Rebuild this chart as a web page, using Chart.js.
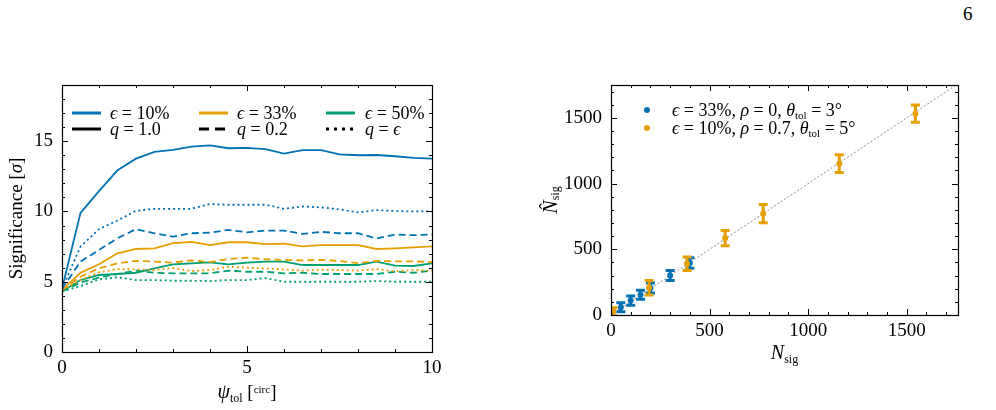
<!DOCTYPE html>
<html><head><meta charset="utf-8">
<script src="https://cdn.jsdelivr.net/npm/chart.js@4/dist/chart.umd.min.js"></script>
<style>
html,body{margin:0;padding:0;background:#fff;width:996px;height:410px;overflow:hidden;}
#wrap{position:relative;width:996px;height:410px;}
canvas{position:absolute;top:0;}
#pg{position:absolute;left:963px;top:3px;font:19px 'Liberation Serif';color:#000;}
</style></head><body>
<div id="wrap">
<div id="pg">6</div>
<canvas id="c1" width="470" height="410" style="left:0px"></canvas>
<canvas id="c2" width="516" height="410" style="left:480px"></canvas>
</div>
<script>
// ---------------- data: left panel ----------------
const psiTol = [0,0.5,1,1.5,2,2.5,3,3.5,4,4.5,5,5.5,6,6.5,7,7.5,8,8.5,9,9.5,10];
const sig10_q1  = [4.5,9.9,11.45,12.93,13.76,14.24,14.38,14.62,14.71,14.5,14.53,14.43,14.12,14.36,14.36,14.07,14.0,14.02,13.93,13.81,13.76];
const sig10_q02 = [4.5,6.43,7.26,8.1,8.74,8.45,8.21,8.45,8.5,8.69,8.52,8.64,8.64,8.4,8.55,8.45,8.45,8.07,8.36,8.31,8.36];
const sig10_qe  = [4.5,7.5,8.74,9.36,10.05,10.19,10.19,10.19,10.53,10.48,10.48,10.48,10.19,10.36,10.29,10.15,9.93,10.1,10.03,10.0,10.0];
const sig33_q1  = [4.4,5.64,6.24,7.02,7.33,7.38,7.74,7.83,7.6,7.81,7.81,7.67,7.71,7.52,7.6,7.6,7.6,7.33,7.38,7.45,7.52];
const sig33_q02 = [4.4,5.36,5.95,6.31,6.48,6.43,6.36,6.52,6.4,6.62,6.71,6.6,6.55,6.52,6.55,6.48,6.33,6.48,6.45,6.45,6.4];
const sig33_qe  = [4.4,5.12,5.67,5.9,5.88,5.83,5.98,5.76,5.83,6.07,6.0,5.95,5.88,5.79,5.86,5.83,5.79,5.9,5.74,5.83,5.79];
const sig50_q1  = [4.3,5.12,5.48,5.55,5.64,5.95,6.24,6.31,6.38,6.24,6.36,6.43,6.43,6.19,6.19,6.19,6.19,6.43,6.14,6.12,6.31];
const sig50_q02 = [4.3,4.95,5.3,5.55,5.79,5.64,5.6,5.6,5.6,5.79,5.71,5.71,5.6,5.64,5.55,5.55,5.55,5.55,5.71,5.64,5.79];
const sig50_qe  = [4.3,4.69,5.17,5.31,5.12,5.12,5.07,5.07,5.05,5.12,5.12,5.26,5.0,5.0,5.0,5.0,5.0,5.05,5.0,5.0,5.0];
const xTicksL = [0,5,10];
const yTicksL = [0,5,10,15];
// ---------------- data: right panel ----------------
const nTrue33 = [0,50,100,150,200,300,400];
const nFit33  = [5,59,110,154,205,301,395];
const err33   = [35,35,35,35,38,38,40];
const nTrue10 = [10,193,386,579,772,1158,1544];
const nFit10  = [25,207,390,585,771,1152,1532];
const err10   = [30,55,52,58,70,68,65];
const ticksR = [0,500,1000,1500];

const BLUE='#0072B2', ORANGE='#E69F00', GREEN='#009E73';
const FF='"Liberation Serif"';

function rich(ctx, x, y, segs, align){
  let w=0;
  for(const s of segs){ctx.font=(s[2]?'italic ':'')+s[1]+'px '+FF; w+=ctx.measureText(s[0]).width;}
  let cx = align==='center'? x-w/2 : x;
  ctx.textAlign='left';
  for(const s of segs){ctx.font=(s[2]?'italic ':'')+s[1]+'px '+FF; ctx.fillText(s[0],cx,y+(s[3]||0)); cx+=ctx.measureText(s[0]).width;}
  return w;
}
function frameTicks(chart, xMaj, xMinStep, yMaj, yMinStep){
  const ctx=chart.ctx, a=chart.chartArea, sx=chart.scales.x, sy=chart.scales.y;
  ctx.save(); ctx.strokeStyle='#000'; ctx.lineWidth=1.2;
  ctx.strokeRect(a.left+0.5,a.top+0.5,a.right-a.left,a.bottom-a.top);
  ctx.lineWidth=1;
  ctx.beginPath();
  const tick=(v,isX,len)=>{
    if(isX){const p=Math.round(sx.getPixelForValue(v))+0.5; ctx.moveTo(p,a.bottom); ctx.lineTo(p,a.bottom-len); ctx.moveTo(p,a.top); ctx.lineTo(p,a.top+len);}
    else {const p=Math.round(sy.getPixelForValue(v))+0.5; ctx.moveTo(a.left,p); ctx.lineTo(a.left+len,p); ctx.moveTo(a.right,p); ctx.lineTo(a.right-len,p);}
  };
  for(let v=sx.min; v<=sx.max+1e-9; v+=xMinStep){ if(!xMaj.some(m=>Math.abs(m-v)<1e-6)) tick(v,true,3);}
  for(let v=sy.min; v<=sy.max+1e-9; v+=yMinStep){ if(!yMaj.some(m=>Math.abs(m-v)<1e-6)) tick(v,false,3);}
  xMaj.forEach(v=>tick(v,true,6)); yMaj.forEach(v=>tick(v,false,6));
  ctx.stroke(); ctx.restore();
}
const pts=(xs,ys)=>xs.map((x,i)=>({x:x,y:ys[i]}));
const DASH=[7,4], DOT=[2,3];
function ds(arr,color,dash){return {data:pts(psiTol,arr),borderColor:color,borderWidth:1.8,borderDash:dash,pointRadius:0,fill:false,tension:0};}
const tickFont={family:'Liberation Serif',size:19};
const plain=v=>String(v);

const leftPlugin={id:'lp',afterDraw(chart){
  const ctx=chart.ctx, a=chart.chartArea;
  frameTicks(chart,xTicksL,1,yTicksL,1);
  ctx.save(); ctx.fillStyle='#000'; ctx.textBaseline='alphabetic';
  const cols=[[72,110],[199,237],[326,365]];
  const row1=[[BLUE,'10%'],[ORANGE,'33%'],[GREEN,'50%']];
  const row2=[[[],'1.0'],[[10,6],'0.2'],[[3,5],null]];
  for(let i=0;i<3;i++){
    ctx.lineWidth=3; ctx.setLineDash([]); ctx.strokeStyle=row1[i][0];
    ctx.beginPath(); ctx.moveTo(cols[i][0],113); ctx.lineTo(cols[i][0]+29,113); ctx.stroke();
    ctx.strokeStyle='#000'; ctx.setLineDash(row2[i][0]);
    ctx.beginPath(); ctx.moveTo(cols[i][0],129); ctx.lineTo(cols[i][0]+29,129); ctx.stroke();
    rich(ctx,cols[i][1],119,[['\u03F5',18,true],[' = '+row1[i][1],18,false]]);
    if(row2[i][1]) rich(ctx,cols[i][1],135,[['q',18,true],[' = '+row2[i][1],18,false]]);
    else rich(ctx,cols[i][1],135,[['q',18,true],[' = ',18,false],['\u03F5',18,true]]);
  }
  ctx.setLineDash([]);
  rich(ctx,(a.left+a.right)/2,398,[['\u03C8',20,true],['tol',12,false,4],[' [',19,false],['circ',11,false,-5],[']',19,false]],'center');
  ctx.translate(17,(a.top+a.bottom)/2); ctx.rotate(-Math.PI/2);
  ctx.textBaseline='middle';
  rich(ctx,0,0,[['Significance [',19,false],['\u03C3',19,true],[']',19,false]],'center');
  ctx.restore();
}};

new Chart(document.getElementById('c1'),{
  type:'line',
  data:{datasets:[
    ds(sig10_q1,BLUE,[]), ds(sig10_q02,BLUE,DASH), ds(sig10_qe,BLUE,DOT),
    ds(sig33_q1,ORANGE,[]), ds(sig33_q02,ORANGE,DASH), ds(sig33_qe,ORANGE,DOT),
    ds(sig50_q1,GREEN,[]), ds(sig50_q02,GREEN,DASH), ds(sig50_qe,GREEN,DOT)
  ]},
  options:{responsive:false,animation:false,devicePixelRatio:1,
    layout:{padding:{top:85,right:38,left:0,bottom:0}},
    plugins:{legend:{display:false},tooltip:{enabled:false}},
    scales:{
      x:{type:'linear',min:0,max:10,afterBuildTicks:s=>{s.ticks=xTicksL.map(v=>({value:v}));},afterFit:s=>{s.height=58;},
        grid:{display:false,drawTicks:false},border:{display:false},
        ticks:{font:tickFont,color:'#000',padding:5,maxRotation:0,callback:plain}},
      y:{type:'linear',min:0,max:19,afterBuildTicks:s=>{s.ticks=yTicksL.map(v=>({value:v}));},afterFit:s=>{s.width=62;},
        grid:{display:false,drawTicks:false},border:{display:false},
        ticks:{font:tickFont,color:'#000',padding:9,callback:plain}}
    }
  },
  plugins:[leftPlugin]
});

// ---------------- right panel ----------------
const errs={0:[nTrue10,nFit10,err10,ORANGE],1:[nTrue33,nFit33,err33,BLUE]};
const rightPlugin={id:'rp',
  beforeDatasetDraw(chart,args){
    const e=errs[args.index]; if(!e) return;
    const ctx=chart.ctx, sx=chart.scales.x, sy=chart.scales.y, a=chart.chartArea;
    ctx.save(); ctx.beginPath(); ctx.rect(a.left,a.top,a.right-a.left,a.bottom-a.top); ctx.clip();
    ctx.strokeStyle=e[3]; ctx.lineWidth=3; ctx.beginPath();
    e[0].forEach((x,i)=>{
      const px=sx.getPixelForValue(x), y1=sy.getPixelForValue(e[1][i]-e[2][i]), y2=sy.getPixelForValue(e[1][i]+e[2][i]);
      ctx.moveTo(px,y1); ctx.lineTo(px,y2);
      ctx.moveTo(px-4.5,y1); ctx.lineTo(px+4.5,y1); ctx.moveTo(px-4.5,y2); ctx.lineTo(px+4.5,y2);
    });
    ctx.stroke(); ctx.restore();
  },
  afterDraw(chart){
    const ctx=chart.ctx, a=chart.chartArea;
    frameTicks(chart,ticksR,100,ticksR,100);
    ctx.save(); ctx.fillStyle='#000'; ctx.textBaseline='alphabetic';
    ctx.fillStyle=BLUE; ctx.beginPath(); ctx.arc(167,110,3,0,Math.PI*2); ctx.fill();
    ctx.fillStyle=ORANGE; ctx.beginPath(); ctx.arc(167,128,3,0,Math.PI*2); ctx.fill();
    ctx.fillStyle='#000';
    rich(ctx,192,116,[['\u03F5',18,true],[' = 33%, ',18,false],['\u03C1',18,true],[' = 0, ',18,false],['\u03B8',18,true],['tol',11,false,3],[' = 3\u00B0',18,false]]);
    rich(ctx,192,134,[['\u03F5',18,true],[' = 10%, ',18,false],['\u03C1',18,true],[' = 0.7, ',18,false],['\u03B8',18,true],['tol',11,false,3],[' = 5\u00B0',18,false]]);
    rich(ctx,(a.left+a.right)/2,359,[['N',20,true],['sig',12,false,4]],'center');
    ctx.translate(72,(a.top+a.bottom)/2); ctx.rotate(-Math.PI/2);
    ctx.textBaseline='middle';
    rich(ctx,0,0,[['N\u0302',20,true],['sig',12,false,4]],'center');
    ctx.restore();
  }
};

new Chart(document.getElementById('c2'),{
  type:'scatter',
  data:{datasets:[
    {data:pts(nTrue10,nFit10),backgroundColor:ORANGE,borderColor:ORANGE,pointRadius:3,pointBorderWidth:0},
    {data:pts(nTrue33,nFit33),backgroundColor:BLUE,borderColor:BLUE,pointRadius:3,pointBorderWidth:0},
    {data:[{x:0,y:0},{x:1760,y:1760}],showLine:true,borderColor:'#8a8a8a',borderWidth:1,borderDash:[2,2],pointRadius:0,fill:false}
  ]},
  options:{responsive:false,animation:false,devicePixelRatio:1,
    layout:{padding:{top:85,right:38,left:0,bottom:0}},
    plugins:{legend:{display:false},tooltip:{enabled:false}},
    scales:{
      x:{type:'linear',min:0,max:1760,afterBuildTicks:s=>{s.ticks=ticksR.map(v=>({value:v}));},afterFit:s=>{s.height=95;},
        grid:{display:false,drawTicks:false},border:{display:false},
        ticks:{font:tickFont,color:'#000',padding:5,maxRotation:0,callback:plain}},
      y:{type:'linear',min:0,max:1750,afterBuildTicks:s=>{s.ticks=ticksR.map(v=>({value:v}));},afterFit:s=>{s.width=131;},
        grid:{display:false,drawTicks:false},border:{display:false},
        ticks:{font:tickFont,color:'#000',padding:9,callback:plain}}
    }
  },
  plugins:[rightPlugin]
});
</script>
</body></html>
